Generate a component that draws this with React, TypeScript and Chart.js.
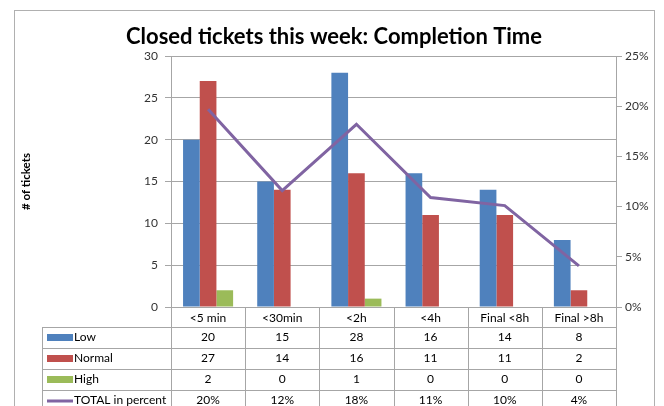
import React, { useEffect, useRef } from "react";
import { Chart, registerables } from "chart.js";

Chart.register(...registerables);

const TITLE = "Closed tickets this week: Completion Time";
const Y_TITLE = "# of tickets";
const categories = ["<5 min", "<30min", "<2h", "<4h", "Final <8h", "Final >8h"];
const low = [20, 15, 28, 16, 14, 8];
const normal = [27, 14, 16, 11, 11, 2];
const high = [2, 0, 1, 0, 0, 0];
const totalPct = [0.197, 0.116, 0.182, 0.109, 0.101, 0.041];
const seriesNames = ["Low", "Normal", "High", "TOTAL in percent"];

const FONT = "Lato, 'Open Sans', sans-serif";
const BLUE = "#4F81BD";
const RED = "#C0504D";
const GREEN = "#9BBB59";
const PURPLE = "#8064A2";
const GRID = "#a6a6a6";

const pct = (v: number) => Math.round(v * 100) + "%";

const tablePlugin = {
  id: "excelTable",
  afterDraw(chart: any) {
    const { ctx, chartArea, scales } = chart;
    const x = scales.x;
    const n = categories.length;
    const cw = (chartArea.right - chartArea.left) / n;
    const H = chart.height;
    ctx.save();
    // outer frame
    ctx.strokeStyle = "#b0b0b0";
    ctx.lineWidth = 1;
    ctx.strokeRect(14.5, 10.5, 640, 430);
    // title
    ctx.fillStyle = "#000";
    ctx.font = `bold 22px ${FONT}`;
    ctx.textAlign = "center";
    ctx.textBaseline = "alphabetic";
    ctx.fillText(TITLE, 334, 44);

    // table
    const top = Math.round(chartArea.bottom);
    const labelLeft = 42;
    const rowLines = [top + 20, top + 41, top + 62, top + 83, top + 104];
    ctx.strokeStyle = GRID;
    ctx.lineWidth = 1;
    ctx.beginPath();
    for (let i = 0; i <= n; i++) {
      const xb = Math.round(chartArea.left + i * cw) + 0.5;
      ctx.moveTo(xb, top);
      ctx.lineTo(xb, H);
    }
    ctx.moveTo(labelLeft + 0.5, rowLines[0]);
    ctx.lineTo(labelLeft + 0.5, H);
    for (const ry of rowLines) {
      ctx.moveTo(labelLeft, ry + 0.5);
      ctx.lineTo(chartArea.right, ry + 0.5);
    }
    ctx.stroke();

    ctx.fillStyle = "#000";
    ctx.textBaseline = "middle";
    ctx.textAlign = "center";
    ctx.font = `12px ${FONT}`;
    categories.forEach((c, i) => {
      ctx.fillText(c, x.getPixelForValue(i), top + 11);
    });

    const rows = [
      { name: seriesNames[0], color: BLUE, line: false, vals: low.map(String) },
      { name: seriesNames[1], color: RED, line: false, vals: normal.map(String) },
      { name: seriesNames[2], color: GREEN, line: false, vals: high.map(String) },
      { name: seriesNames[3], color: PURPLE, line: true, vals: totalPct.map(pct) },
    ];
    rows.forEach((r, ri) => {
      const cy = rowLines[ri] + 10.5;
      ctx.fillStyle = r.color;
      if (r.line) ctx.fillRect(47, cy - 1, 26, 3);
      else ctx.fillRect(47, cy - 3.5, 26, 7);
      ctx.fillStyle = "#000";
      ctx.textAlign = "left";
      ctx.fillText(r.name, 74, cy);
      ctx.textAlign = "center";
      r.vals.forEach((v, i) => ctx.fillText(v, x.getPixelForValue(i), cy));
    });
    ctx.restore();
  },
};

export default function App() {
  const ref = useRef<HTMLCanvasElement | null>(null);
  useEffect(() => {
    if (!ref.current) return;
    const chart = new Chart(ref.current, {
      type: "bar",
      data: {
        labels: categories,
        datasets: [
          {
            type: "line",
            label: seriesNames[3],
            data: totalPct,
            yAxisID: "y1",
            borderColor: PURPLE,
            borderWidth: 3,
            pointRadius: 0,
            tension: 0,
            fill: false,
            order: 0,
          } as any,
          { label: seriesNames[0], data: low, backgroundColor: BLUE, yAxisID: "y", categoryPercentage: 0.675, barPercentage: 1, order: 1 },
          { label: seriesNames[1], data: normal, backgroundColor: RED, yAxisID: "y", categoryPercentage: 0.675, barPercentage: 1, order: 1 },
          { label: seriesNames[2], data: high, backgroundColor: GREEN, yAxisID: "y", categoryPercentage: 0.675, barPercentage: 1, order: 1 },
        ],
      },
      options: {
        animation: false,
        responsive: true,
        maintainAspectRatio: false,
        layout: { padding: { left: 14, right: 0, top: 56, bottom: 99 } },
        plugins: { legend: { display: false }, tooltip: { enabled: false }, title: { display: false } },
        scales: {
          x: { type: "category", display: false, offset: true },
          y: {
            position: "left",
            min: 0,
            max: 30,
            ticks: { stepSize: 5, padding: 7, color: "#333", font: { family: FONT, size: 12 } },
            grid: { color: GRID, tickLength: 6, lineWidth: 1 },
            border: { color: GRID },
            title: {
              display: true,
              text: Y_TITLE,
              color: "#000",
              font: { family: FONT, size: 11.5, weight: "bold" },
              padding: { top: 5, bottom: 0 },
            },
            afterFit: (s: any) => {
              s.width = 157;
            },
          },
          y1: {
            position: "right",
            min: 0,
            max: 0.25,
            ticks: { stepSize: 0.05, padding: 3, color: "#333", font: { family: FONT, size: 12 }, callback: (v: any) => pct(Number(v)) },
            grid: { drawOnChartArea: false, color: GRID, tickLength: 6 },
            border: { color: GRID },
            afterFit: (s: any) => {
              s.width = 48;
            },
          },
        },
      } as any,
      plugins: [tablePlugin],
    });
    return () => chart.destroy();
  }, []);
  return (
    <div style={{ position: "absolute", left: 0, top: 0, width: 664, height: 406, background: "#fff" }}>
      <canvas ref={ref} />
    </div>
  );
}
